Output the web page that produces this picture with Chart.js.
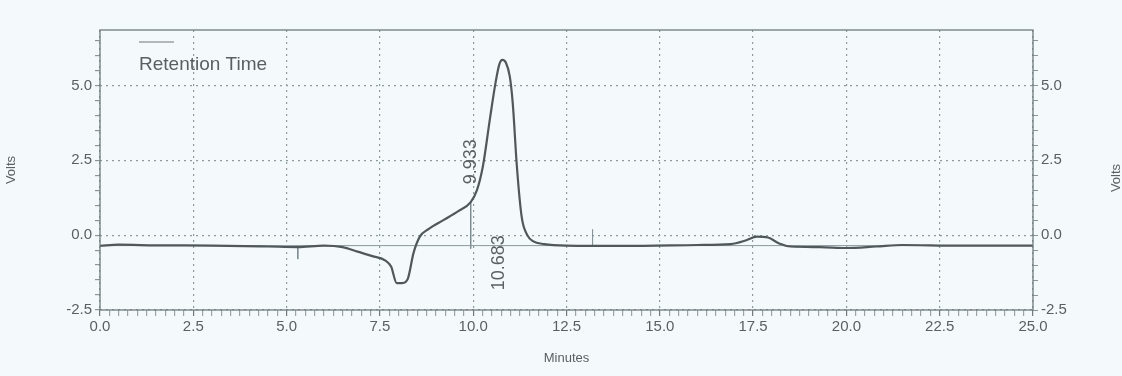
<!DOCTYPE html>
<html>
<head>
<meta charset="utf-8">
<script src="https://cdn.jsdelivr.net/npm/chart.js@4.4.1/dist/chart.umd.min.js"></script>
<style>
  html, body { margin: 0; padding: 0; background: #f4fafb; }
  #wrap { width: 1122px; height: 376px; }
</style>
</head>
<body>
<div id="wrap"><canvas id="chromChart" width="1122" height="376"></canvas></div>
<script>
// Chromatogram trace (minutes / volts)
const minutes = [0, 0.5, 1.5, 3, 4.5, 5.3, 6.0, 6.5, 6.9, 7.3, 7.65, 7.8, 7.95, 8.1, 8.25, 8.4, 8.57, 8.8, 9.2, 9.6, 9.933, 10.1, 10.26, 10.45, 10.6, 10.7, 10.78, 10.88, 10.98, 11.06, 11.17, 11.3, 11.45, 11.6, 11.9, 12.5, 14, 16, 16.9, 17.3, 17.6, 17.9, 18.2, 18.5, 19.3, 20.0, 20.8, 21.5, 23, 25];
const volts = [-0.36, -0.32, -0.34, -0.35, -0.38, -0.4, -0.35, -0.4, -0.55, -0.7, -0.85, -1.05, -1.6, -1.6, -1.45, -0.6, -0.05, 0.2, 0.5, 0.8, 1.1, 1.5, 2.3, 3.9, 5.1, 5.7, 5.85, 5.75, 5.3, 4.4, 2.3, 0.6, 0.0, -0.2, -0.3, -0.35, -0.36, -0.33, -0.3, -0.18, -0.05, -0.08, -0.28, -0.38, -0.4, -0.43, -0.38, -0.33, -0.35, -0.35];

// Integration baseline
const baselineLevel = -0.35;

// Peak labels
const peakTimes = [9.933, 10.683];
const peakLabels = ['9.933', '10.683'];

// Event marks on the trace (time, from, to)
const markTimes = [5.3, 9.933, 13.2];
const markFrom = [-0.35, 1.1, -0.35];
const markTo = [-0.8, -0.45, 0.2];

// Axis ticks
const xLabelTicks = [0, 2.5, 5, 7.5, 10, 12.5, 15, 17.5, 20, 22.5, 25];
const yLabelTicks = [-2.5, 0, 2.5, 5];

const textColor = '#5a5f62';
const gridColor = '#8f9a9e';
const traceColor = '#51585c';

const isMajor = (v, list) => list.some(t => Math.abs(t - v) < 1e-6);

const traceData = minutes.map((m, i) => ({ x: m, y: volts[i] }));
const markSets = markTimes.map((t, i) => ({
    data: [{ x: t, y: markFrom[i] }, { x: t, y: markTo[i] }],
    borderColor: '#7c8a90',
    borderWidth: 1,
    pointRadius: 0,
    fill: false
}));

// Background, plot frame, peak labels, legend and right title
const extrasPlugin = {
    id: 'extras',
    beforeDraw(chart) {
        const c = chart.ctx;
        c.save();
        c.fillStyle = '#f4fafb';
        c.fillRect(0, 0, chart.width, chart.height);
        c.restore();
    },
    afterDatasetsDraw(chart) {
        const c = chart.ctx;
        const a = chart.chartArea;
        const xs = chart.scales.x;
        const ys = chart.scales.y;
        c.save();
        c.strokeStyle = '#707a7e';
        c.lineWidth = 1.3;
        c.strokeRect(a.left, a.top, a.right - a.left, a.bottom - a.top);

        c.fillStyle = textColor;
        c.font = '18px "Liberation Sans", Arial, sans-serif';
        c.textBaseline = 'middle';
        // first peak label sits above the trace
        c.save();
        c.translate(xs.getPixelForValue(peakTimes[0]), ys.getPixelForValue(1.1) - 18);
        c.rotate(-Math.PI / 2);
        c.textAlign = 'left';
        c.fillText(peakLabels[0], 0, 0);
        c.restore();
        // second peak label hangs below the baseline
        c.save();
        c.translate(xs.getPixelForValue(peakTimes[1]), ys.getPixelForValue(0));
        c.rotate(-Math.PI / 2);
        c.textAlign = 'right';
        c.fillText(peakLabels[1], 0, 0);
        c.restore();

        // legend inside the plot
        c.strokeStyle = '#6d777b';
        c.lineWidth = 1.2;
        c.beginPath();
        c.moveTo(a.left + 39, a.top + 12);
        c.lineTo(a.left + 74, a.top + 12);
        c.stroke();
        c.font = '19px "Liberation Sans", Arial, sans-serif';
        c.textAlign = 'left';
        c.textBaseline = 'alphabetic';
        c.fillText('Retention Time', a.left + 39, a.top + 40);

        // right axis title, reading bottom to top
        c.font = '13px "Liberation Sans", Arial, sans-serif';
        c.translate(1116, 178);
        c.rotate(-Math.PI / 2);
        c.textAlign = 'center';
        c.textBaseline = 'middle';
        c.fillText('Volts', 0, 0);
        c.restore();
    }
};

const yTicks = scale => {
    const t = [];
    for (let v = -2.5; v <= 6.5001; v += 0.5) t.push({ value: Math.round(v * 10) / 10 });
    scale.ticks = t;
};

const ctx = document.getElementById('chromChart').getContext('2d');
const chromChart = new Chart(ctx, {
    type: 'line',
    data: {
        datasets: [{
            data: traceData,
            borderColor: traceColor,
            borderWidth: 2.2,
            pointRadius: 0,
            cubicInterpolationMode: 'monotone',
            fill: false
        }, {
            data: [{ x: 0, y: baselineLevel }, { x: 25, y: baselineLevel }],
            borderColor: '#8a979c',
            borderWidth: 1,
            pointRadius: 0,
            fill: false
        }, ...markSets]
    },
    plugins: [extrasPlugin],
    options: {
        responsive: false,
        animation: false,
        layout: { padding: { top: 30, left: 0, right: 0, bottom: 0 } },
        plugins: {
            legend: { display: false },
            tooltip: { enabled: false }
        },
        scales: {
            x: {
                type: 'linear',
                min: 0,
                max: 25,
                afterFit(scale) { scale.height = 66; },
                afterBuildTicks(scale) {
                    const t = [];
                    for (let v = 0; v <= 25.0001; v += 0.25) t.push({ value: Math.round(v * 100) / 100 });
                    scale.ticks = t;
                },
                ticks: {
                    autoSkip: false,
                    maxRotation: 0,
                    padding: 2,
                    color: textColor,
                    font: { family: '"Liberation Sans", Arial, sans-serif', size: 15 },
                    callback: v => isMajor(v, xLabelTicks) ? v.toFixed(1) : ''
                },
                grid: {
                    color: c => isMajor(c.tick.value, xLabelTicks) ? gridColor : 'rgba(0,0,0,0)',
                    tickColor: c => isMajor(c.tick.value, xLabelTicks) ? '#707a7e' : '#98a4a8',
                    tickLength: 6,
                    lineWidth: 1.2
                },
                border: { display: false, dash: [2, 4] },
                title: {
                    display: true,
                    text: 'Minutes',
                    color: textColor,
                    font: { family: '"Liberation Sans", Arial, sans-serif', size: 13 },
                    padding: { top: 0, bottom: 10 }
                }
            },
            y: {
                position: 'left',
                min: -2.5,
                max: 6.85,
                afterFit(scale) { scale.width = 100; },
                afterBuildTicks: yTicks,
                ticks: {
                    autoSkip: false,
                    padding: 3,
                    color: textColor,
                    font: { family: '"Liberation Sans", Arial, sans-serif', size: 15 },
                    callback: v => isMajor(v, yLabelTicks) ? v.toFixed(1) : ''
                },
                grid: {
                    color: c => isMajor(c.tick.value, yLabelTicks) ? gridColor : 'rgba(0,0,0,0)',
                    tickColor: '#8a969a',
                    tickLength: 5,
                    lineWidth: 1.2
                },
                border: { display: false, dash: [2, 4] },
                title: {
                    display: true,
                    text: 'Volts',
                    color: textColor,
                    font: { family: '"Liberation Sans", Arial, sans-serif', size: 13 },
                    padding: { top: 4, bottom: 0 }
                }
            },
            y2: {
                position: 'right',
                min: -2.5,
                max: 6.85,
                afterFit(scale) { scale.width = 89; },
                afterBuildTicks: yTicks,
                ticks: {
                    autoSkip: false,
                    padding: 3,
                    color: textColor,
                    font: { family: '"Liberation Sans", Arial, sans-serif', size: 15 },
                    callback: v => isMajor(v, yLabelTicks) ? v.toFixed(1) : ''
                },
                grid: {
                    drawOnChartArea: false,
                    tickColor: '#8a969a',
                    tickLength: 5
                },
                border: { display: false }
            }
        }
    }
});
</script>
</body>
</html>
